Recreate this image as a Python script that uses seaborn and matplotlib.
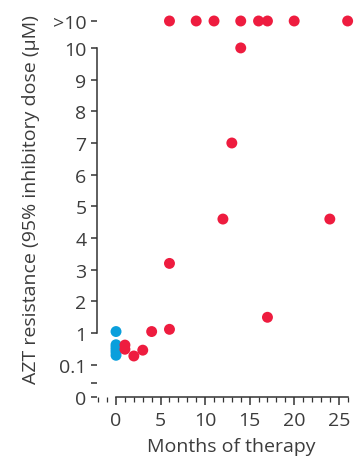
import numpy as np
import pandas as pd
import matplotlib
matplotlib.use('Agg')
import matplotlib.pyplot as plt
import seaborn as sns
from matplotlib.ticker import MultipleLocator

# values; 11 stands for ">10"
red_months = [6, 9, 11, 14, 16, 17, 20, 26, 14, 13, 12, 24, 6, 17, 6, 4, 1, 1, 2, 3]
red_resist = [11, 11, 11, 11, 11, 11, 11, 11, 10, 7, 4.6, 4.6, 3.2, 1.5, 1.12, 1.05, 0.42, 0.31, 0.19, 0.29]
blue_months = [0, 0, 0, 0, 0, 0]
blue_resist = [1.05, 0.43, 0.36, 0.30, 0.25, 0.20]

ytick_vals = [0, 0.042, 0.1, 1, 2, 3, 4, 5, 6, 7, 8, 9, 10, 11]
ytick_labels = ['0', '', '0.1', '1', '2', '3', '4', '5', '6', '7', '8', '9', '10', '>10']
xtick_vals = [0, 5, 10, 15, 20, 25]

df = pd.DataFrame({
    'months': blue_months + red_months,
    'resistance': blue_resist + red_resist,
    'group': ['blue'] * len(blue_months) + ['red'] * len(red_months),
})

# broken axis: linear 0-0.1, log 0.1-1, linear 1-10, squeezed above 10
def fwd(v):
    v = np.asarray(v, dtype=float)
    return np.where(v > 10, 10 + 0.85 * (v - 10),
           np.where(v >= 1, v,
           np.where(v >= 0.1, 1 + np.log10(np.maximum(v, 1e-12)), -1 + 10 * v)))

def inv(p):
    p = np.asarray(p, dtype=float)
    return np.where(p > 10, 10 + (p - 10) / 0.85,
           np.where(p >= 1, p,
           np.where(p >= 0, 10 ** (p - 1), (p + 1) / 10)))

sns.set_style('ticks')
plt.rcParams['font.family'] = ['Open Sans', 'DejaVu Sans']
text_col = '#3c3c3c'
axis_col = '#333333'

fig = plt.figure(figsize=(3.56, 4.64), dpi=100)
ax = fig.add_axes([0.2725, 0.1433, 0.989 - 0.2725, 0.9677 - 0.1433])

sns.scatterplot(data=df, x='months', y='resistance', hue='group',
                palette={'blue': '#0a9fdc', 'red': '#ee1c3f'},
                s=62, linewidth=0, legend=False, ax=ax, clip_on=False, zorder=3)

ax.set_yscale('function', functions=(fwd, inv))
ax.set_ylim(0, 11.26)
ax.set_xlim(-2.135, 26.5)

ax.set_yticks(ytick_vals)
ax.set_yticklabels(ytick_labels)
ax.set_xticks(xtick_vals)
ax.xaxis.set_minor_locator(MultipleLocator(1))

for side in ['top', 'right']:
    ax.spines[side].set_visible(False)
ax.spines['left'].set_bounds(1, 10)
ax.spines['bottom'].set_bounds(0, 26)
for side in ['left', 'bottom']:
    ax.spines[side].set_color(axis_col)
    ax.spines[side].set_linewidth(1.1)

ax.tick_params(axis='y', which='major', length=4.5, width=1.1, pad=3,
               labelsize=14, colors=axis_col, labelcolor=text_col)
ax.tick_params(axis='x', which='major', length=5.5, width=1.1, pad=5,
               labelsize=14, colors=axis_col, labelcolor=text_col)
ax.tick_params(axis='x', which='minor', length=3.5, width=0.9, colors=axis_col)

ax.set_xlabel('Months of therapy', fontsize=14, color=text_col)
ax.set_ylabel('AZT resistance (95% inhibitory dose (\u03bcM)', fontsize=14,
              color=text_col)
ax.xaxis.set_label_coords(0.527, -0.105)
ax.yaxis.set_label_coords(-0.225, 0.517)

fig.savefig('out.png', dpi=100)
